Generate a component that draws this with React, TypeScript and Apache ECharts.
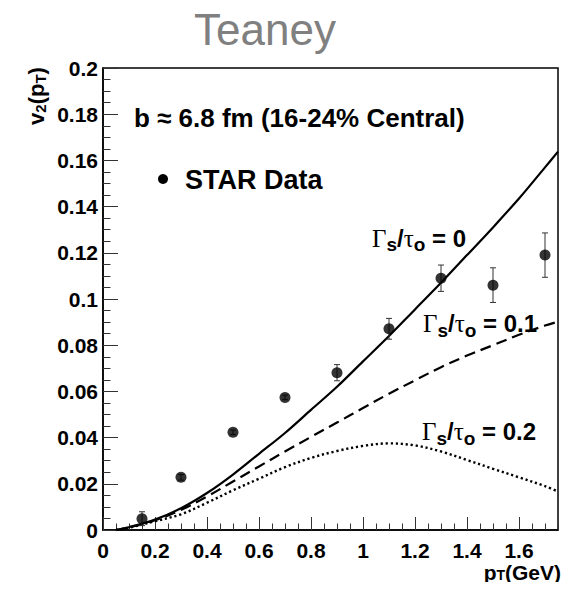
import React, { useEffect, useRef } from "react";
import * as echarts from "echarts";

// ---- data ----
const curveX = [0.05, 0.1, 0.2, 0.3, 0.4, 0.5, 0.6, 0.7, 0.8, 0.9, 1.0, 1.1, 1.2, 1.3, 1.4, 1.5, 1.6, 1.7, 1.75];
const idealY = [0, 0.0012, 0.0045, 0.0094, 0.016, 0.024, 0.033, 0.042, 0.052, 0.062, 0.073, 0.084, 0.0955, 0.107, 0.119, 0.131, 0.1435, 0.157, 0.1638];
const visc01Y = [0, 0.0011, 0.0042, 0.0087, 0.0145, 0.021, 0.0275, 0.034, 0.0403, 0.0465, 0.0528, 0.059, 0.0648, 0.0705, 0.0755, 0.08, 0.0845, 0.0885, 0.0902];
const visc02Y = [0, 0.001, 0.0038, 0.0068, 0.0118, 0.0172, 0.0222, 0.0272, 0.0312, 0.0342, 0.0364, 0.0375, 0.0366, 0.034, 0.0303, 0.0265, 0.0228, 0.019, 0.0166];

const starX = [0.15, 0.3, 0.5, 0.7, 0.9, 1.1, 1.3, 1.5, 1.7];
const starY = [0.0049, 0.0228, 0.0423, 0.0574, 0.0681, 0.0871, 0.109, 0.106, 0.119];
const starErr = [0.003, 0.0012, 0.001, 0.001, 0.0035, 0.0045, 0.0057, 0.0075, 0.0096];

const xMin = 0;
const xMax = 1.75;
const xStep = 0.2;
const xMinorStep = 0.05;
const yMin = 0;
const yMax = 0.2;
const yStep = 0.02;

const SANS = "'Liberation Sans', Arial, Helvetica, sans-serif";
const SERIF = "'Liberation Serif', 'Times New Roman', serif";

function gammaLabel(value: string, x: number, y: number) {
  return {
    type: "text",
    x,
    y,
    z: 10,
    style: {
      text: `{g|Γ}{s|s}{b|/}{g|τ}{s|o}{b| = ${value}}`,
      align: "left",
      verticalAlign: "middle",
      rich: {
        g: { fontFamily: SERIF, fontSize: 25, fill: "#000", fontWeight: "normal" },
        s: { fontFamily: SANS, fontSize: 19, fontWeight: "bold", fill: "#000", padding: [13, 0, 0, 0] },
        b: { fontFamily: SANS, fontSize: 24, fontWeight: "bold", fill: "#000" },
      },
    },
  };
}

export default function App() {
  const ref = useRef<HTMLDivElement>(null);

  useEffect(() => {
    if (!ref.current) return;
    const chart = echarts.init(ref.current, undefined, { renderer: "svg" });

    const line = (ys: number[], type: any, width: number) => ({
      type: "line",
      xAxisIndex: 0,
      yAxisIndex: 0,
      data: curveX.map((x, i) => [x, ys[i]]),
      smooth: 0.35,
      showSymbol: false,
      symbol: "none",
      lineStyle: { color: "#000", width, type },
      z: 3,
      silent: true,
    });

    const option: any = {
      animation: false,
      backgroundColor: "#fff",
      grid: {
        left: 103,
        right: 11,
        top: 68,
        bottom: 60,
        show: true,
        borderColor: "#000",
        borderWidth: 1.5,
        backgroundColor: "transparent",
      },
      xAxis: [
        {
          type: "value",
          min: xMin,
          max: xMax,
          interval: xStep,
          position: "bottom",
          axisLine: { show: true, onZero: false, lineStyle: { color: "#000", width: 1.5 } },
          axisTick: { show: true, inside: true, length: 13, lineStyle: { color: "#333", width: 1 } },
          axisLabel: {
            show: true,
            margin: 11,
            color: "#000",
            fontFamily: SANS,
            fontWeight: "bold",
            fontSize: 21,
            lineHeight: 18,
            showMaxLabel: false,
          },
          splitLine: { show: false },
        },
        {
          type: "value",
          min: xMin,
          max: xMax,
          interval: xMinorStep,
          position: "bottom",
          axisLine: { show: false },
          axisTick: { show: true, inside: true, length: 6.5, lineStyle: { color: "#333", width: 1 } },
          axisLabel: { show: false },
          splitLine: { show: false },
        },
      ],
      yAxis: {
        type: "value",
        min: yMin,
        max: yMax,
        interval: yStep,
        axisLine: { show: true, onZero: false, lineStyle: { color: "#000", width: 1.5 } },
        axisTick: { show: true, inside: true, length: 15, lineStyle: { color: "#333", width: 1 } },
        minorTick: { show: true, splitNumber: 4, length: 7.5, lineStyle: { color: "#333", width: 1 } },
        axisLabel: {
          margin: 5,
          color: "#000",
          fontFamily: SANS,
          fontWeight: "bold",
          fontSize: 21,
        },
        splitLine: { show: false },
      },
      series: [
        line(idealY, "solid", 2.2),
        line(visc01Y, [11, 6], 2.2),
        line(visc02Y, [2.2, 2.8], 2.4),
        {
          type: "custom",
          xAxisIndex: 0,
          yAxisIndex: 0,
          data: starX.map((x, i) => [x, starY[i], starErr[i]]),
          z: 4,
          silent: true,
          renderItem: (params: any, api: any) => {
            const x = api.value(0);
            const y = api.value(1);
            const e = api.value(2);
            const top = api.coord([x, y + e]);
            const bot = api.coord([x, y - e]);
            const st = { stroke: "#333", lineWidth: 1 };
            return {
              type: "group",
              children: [
                { type: "line", shape: { x1: top[0], y1: top[1], x2: bot[0], y2: bot[1] }, style: st },
                { type: "line", shape: { x1: top[0] - 3, y1: top[1], x2: top[0] + 3, y2: top[1] }, style: st },
                { type: "line", shape: { x1: bot[0] - 3, y1: bot[1], x2: bot[0] + 3, y2: bot[1] }, style: st },
              ],
            };
          },
        },
        {
          type: "scatter",
          xAxisIndex: 0,
          yAxisIndex: 0,
          data: starX.map((x, i) => [x, starY[i]]),
          symbol: "circle",
          symbolSize: 11,
          itemStyle: { color: "#000" },
          z: 5,
          silent: true,
        },
      ],
      graphic: [
        {
          type: "text",
          x: 265,
          y: 29,
          style: {
            text: "Teaney",
            fontFamily: SANS,
            fontSize: 44,
            fill: "#808080",
            align: "center",
            verticalAlign: "middle",
          },
        },
        {
          type: "text",
          x: 36,
          y: 96,
          rotation: Math.PI / 2,
          style: {
            text: "{v|v}{sub|2}{v|(p}{sub|T}{v|)}",
            align: "center",
            verticalAlign: "middle",
            rich: {
              v: { fontFamily: SANS, fontSize: 22, fontWeight: "bold", fill: "#000" },
              sub: { fontFamily: SANS, fontSize: 15, fontWeight: "bold", fill: "#000", padding: [9, 0, 0, 0] },
            },
          },
        },
        {
          type: "text",
          x: 561,
          y: 572,
          style: {
            text: "{v|p}{sub|T}{v|(GeV)}",
            align: "right",
            verticalAlign: "middle",
            rich: {
              v: { fontFamily: SANS, fontSize: 21, fontWeight: "bold", fill: "#000", lineHeight: 18 },
              sub: { fontFamily: SANS, fontSize: 14, fontWeight: "bold", fill: "#000", lineHeight: 14, padding: [6, 0, 0, 0] },
            },
          },
        },
        {
          type: "text",
          x: 134,
          y: 118,
          style: {
            text: "b ≈ 6.8 fm (16-24% Central)",
            fontFamily: SANS,
            fontSize: 26,
            fontWeight: "bold",
            fill: "#000",
            align: "left",
            verticalAlign: "middle",
          },
        },
        {
          type: "circle",
          shape: { cx: 163, cy: 179, r: 5 },
          style: { fill: "#000" },
        },
        {
          type: "text",
          x: 185,
          y: 180,
          style: {
            text: "STAR Data",
            fontFamily: SANS,
            fontSize: 27,
            fontWeight: "bold",
            fill: "#000",
            align: "left",
            verticalAlign: "middle",
          },
        },
        gammaLabel("0", 372, 238),
        gammaLabel("0.1", 423, 323.5),
        gammaLabel("0.2", 422, 431.5),
      ],
    };

    chart.setOption(option);
    return () => chart.dispose();
  }, []);

  return <div ref={ref} style={{ width: 569, height: 590, margin: -8 }} />;
}
